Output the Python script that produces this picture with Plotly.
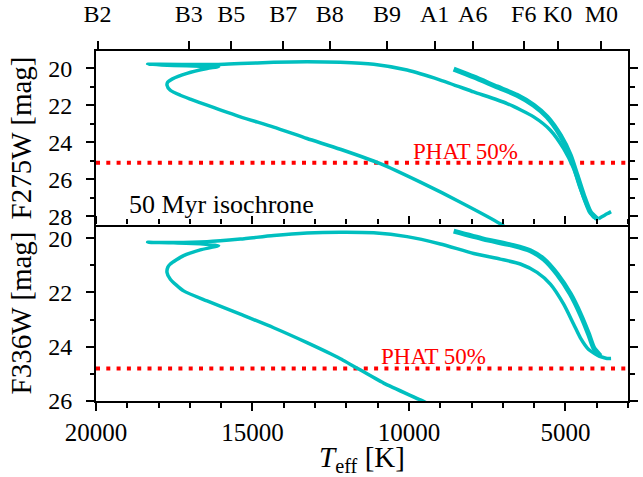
import plotly.graph_objects as go

# ---------------- data ----------------
# spectral-type scale on the top axis
spec_labels = ["B2", "B3", "B5", "B7", "B8", "B9", "A1", "A6", "F6", "K0", "M0"]
spec_teff = [19950, 17040, 15680, 14020, 12530, 10700, 9180, 7960, 6330, 5250, 3850]

# F275W: main track (MS -> turnoff -> hook -> Hertzsprung gap -> cool end)
track_teff_275 = [6800, 7079, 8357, 9635, 10914, 12192, 13257, 14324, 15388, 16452,
                  16986, 17306, 17625, 17731, 17705, 17571, 17092, 16452, 16082, 16667,
                  17520, 18351, 17945, 16091, 15388, 14324, 13257, 12192, 11128, 10060,
                  8996, 7932, 6864, 6014, 5481, 5056, 4736, 4522, 4308, 4097, 3937]
track_mag_275 = [28.75, 28.40, 27.23, 26.15, 25.15, 24.37, 23.79, 23.17, 22.62, 21.99,
                 21.66, 21.45, 21.18, 20.91, 20.74, 20.58, 20.27, 20.01, 19.90, 19.88,
                 19.84, 19.77, 19.78, 19.79, 19.74, 19.67, 19.64, 19.67, 19.78, 20.09,
                 20.63, 21.27, 21.90, 22.62, 23.34, 24.34, 25.42, 26.50, 27.41, 28.04, 28.13]
# F275W: loop band (cool end back up to the bright tip)
band_teff_275 = [3990, 4202, 4416, 4627, 4841, 5161, 5586, 6014, 6545, 7184, 7932, 8571]
band_mag_275 = [28.13, 27.77, 26.87, 25.78, 24.70, 23.62, 22.62, 21.99, 21.45, 21.00, 20.46, 20.04]
# F275W: final hook at the cool end
end_teff_275 = [3937, 3669, 3541]
end_mag_275 = [28.13, 27.86, 27.74]

# F336W
track_teff_336 = [9300, 9635, 10808, 12192, 13257, 14324, 15388, 16452, 17200, 17625,
                  17731, 17705, 17625, 17200, 16667, 16082, 16667, 17520, 18351, 17520,
                  16452, 15388, 14324, 13257, 12192, 11128, 10060, 8996, 7932, 7079,
                  6440, 5906, 5481, 5056, 4736, 4522, 4257, 3937]
track_mag_336 = [26.15, 25.96, 25.34, 24.44, 23.85, 23.30, 22.80, 22.31, 21.94, 21.51,
                 21.26, 21.07, 20.95, 20.64, 20.43, 20.27, 20.20, 20.17, 20.15, 20.16,
                 20.13, 20.03, 19.90, 19.81, 19.78, 19.80, 19.94, 20.21, 20.56, 20.77,
                 20.95, 21.26, 21.69, 22.43, 23.17, 23.67, 24.10, 24.34]
band_teff_336 = [3882, 4097, 4257, 4522, 4841, 5266, 5695, 6120, 6654, 7612, 8571]
band_mag_336 = [24.34, 24.04, 23.54, 22.80, 22.06, 21.32, 20.77, 20.46, 20.27, 20.03, 19.74]
end_teff_336 = [3937, 3669, 3541]
end_mag_336 = [24.34, 24.43, 24.43]

# PHAT 50% completeness limits
phat_275 = 25.1
phat_336 = 24.8

# ---------------- figure ----------------
CYAN = "#00BFBF"
FONT = "Liberation Serif, DejaVu Serif, serif"

fig = go.Figure()


def add_line(x, y, xa, ya, width):
    fig.add_trace(go.Scatter(x=x, y=y, mode="lines", xaxis=xa, yaxis=ya,
                             line=dict(color=CYAN, width=width, shape="spline", smoothing=0.6),
                             hoverinfo="skip"))


add_line(track_teff_275, track_mag_275, "x", "y", 3.5)
add_line(band_teff_275, band_mag_275, "x", "y", 5)
add_line(end_teff_275, end_mag_275, "x", "y", 3.5)
add_line(track_teff_336, track_mag_336, "x2", "y2", 3.5)
add_line(band_teff_336, band_mag_336, "x2", "y2", 5)
add_line(end_teff_336, end_mag_336, "x2", "y2", 3.5)
# invisible trace so the tick-only axis above the lower panel gets drawn
fig.add_trace(go.Scatter(x=[track_teff_336[0]], y=[track_mag_336[0]], mode="lines",
                         xaxis="x3", yaxis="y2", line=dict(width=0), hoverinfo="skip",
                         showlegend=False))

for xref, yref, val in (("x", "y", phat_275), ("x2", "y2", phat_336)):
    fig.add_shape(type="line", xref=xref + " domain", x0=0, x1=1,
                  yref=yref, y0=val, y1=val, layer="below",
                  line=dict(color="red", width=4, dash="4px,6.3px"))

fig.add_annotation(x=8200, y=phat_275, xref="x", yref="y", text="PHAT 50%", showarrow=False,
                   yanchor="bottom", yshift=-3, font=dict(family=FONT, size=23, color="red"))
fig.add_annotation(x=9210, y=phat_336, xref="x2", yref="y2", text="PHAT 50%", showarrow=False,
                   yanchor="bottom", yshift=-3, font=dict(family=FONT, size=23, color="red"))
fig.add_annotation(x=16000, y=27.35, xref="x", yref="y", text="50 Myr isochrone",
                   showarrow=False, font=dict(family=FONT, size=26, color="black"))

axis_common = dict(showline=True, linewidth=2, linecolor="black", showgrid=False,
                   zeroline=False, ticks="outside", ticklen=8, tickwidth=1.5, tickcolor="black",
                   automargin=False)
minor_y = dict(dtick=1, tick0=0, ticklen=4.5, tickwidth=1.5, ticks="outside", tickcolor="black")
minor_x = dict(dtick=1000, tick0=0, ticklen=4.5, tickwidth=1.5, ticks="outside", tickcolor="black")

fig.update_layout(
    width=643, height=477,
    margin=dict(l=96, r=15, t=51, b=76, autoexpand=False),
    plot_bgcolor="white", paper_bgcolor="white", showlegend=False,
    font=dict(family=FONT, size=24, color="black"),
    xaxis=dict(domain=[0, 1], anchor="y", side="top", range=[20000, 3000],
               tickmode="array", tickvals=spec_teff, ticktext=spec_labels,
               ticklabelstandoff=9, mirror=True, **axis_common),
    yaxis=dict(domain=[0.503, 1], anchor="x", range=[28.46, 19.06], tick0=0, dtick=2,
               minor=minor_y, mirror="ticks", ticklabelstandoff=9,
               title=dict(text="F275W [mag]", standoff=8), **axis_common),
    xaxis2=dict(domain=[0, 1], anchor="y2", range=[20000, 3000], tick0=0, dtick=5000,
                tickformat="d", minor=minor_x, mirror=False, tickfont=dict(size=25),
                title=dict(text="<i>T</i><sub>eff</sub> [K]", standoff=6), **axis_common),
    xaxis3=dict(anchor="y2", overlaying="x2", side="top", range=[20000, 3000], tick0=0,
                dtick=5000, minor=minor_x, showticklabels=False, showline=False,
                showgrid=False, zeroline=False, ticks="outside", ticklen=8, tickwidth=1.5,
                tickcolor="black", automargin=False),
    yaxis2=dict(domain=[0, 0.503], anchor="x2", range=[26, 19.51], tick0=0, dtick=2,
                minor=minor_y, mirror="ticks", ticklabelstandoff=9,
                title=dict(text="F336W [mag]", standoff=8), **axis_common),
)

fig.write_html("out.html")
